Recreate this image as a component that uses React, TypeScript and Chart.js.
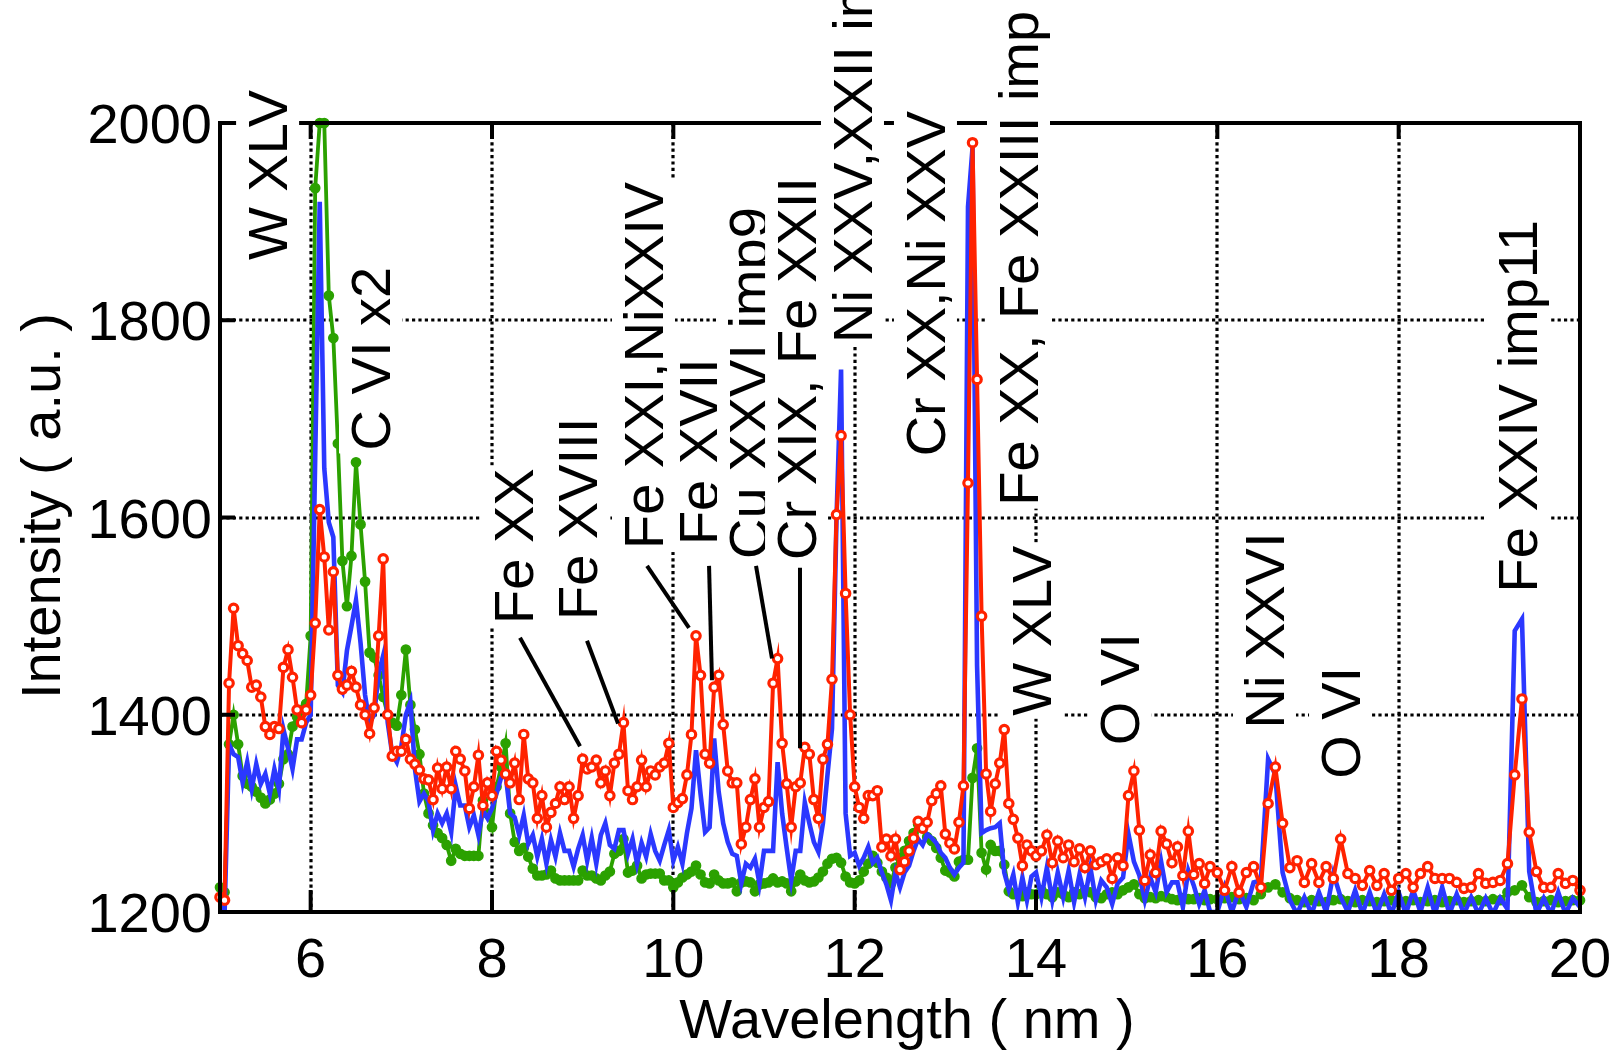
import React, { useEffect, useRef } from "react";
import { Chart, registerables } from "chart.js";

Chart.register(...registerables);

// ---------- data ----------
const wavelengthNm: number[] = [
  5, 5.05, 5.1, 5.15, 5.2, 5.25, 5.3, 5.35, 5.4, 5.45,
  5.5, 5.55, 5.6, 5.65, 5.7, 5.75, 5.8, 5.85, 5.9, 5.95,
  6, 6.05, 6.1, 6.15, 6.2, 6.25, 6.3, 6.35, 6.4, 6.45,
  6.5, 6.55, 6.6, 6.65, 6.7, 6.75, 6.8, 6.85, 6.9, 6.95,
  7, 7.05, 7.1, 7.15, 7.2, 7.25, 7.3, 7.35, 7.4, 7.45,
  7.5, 7.55, 7.6, 7.65, 7.7, 7.75, 7.8, 7.85, 7.9, 7.95,
  8, 8.05, 8.1, 8.15, 8.2, 8.25, 8.3, 8.35, 8.4, 8.45,
  8.5, 8.55, 8.6, 8.65, 8.7, 8.75, 8.8, 8.85, 8.9, 8.95,
  9, 9.05, 9.1, 9.15, 9.2, 9.25, 9.3, 9.35, 9.4, 9.45,
  9.5, 9.55, 9.6, 9.65, 9.7, 9.75, 9.8, 9.85, 9.9, 9.95,
  10, 10.05, 10.1, 10.15, 10.2, 10.25, 10.3, 10.35, 10.4, 10.45,
  10.5, 10.55, 10.6, 10.65, 10.7, 10.75, 10.8, 10.85, 10.9, 10.95,
  11, 11.05, 11.1, 11.15, 11.2, 11.25, 11.3, 11.35, 11.4, 11.45,
  11.5, 11.55, 11.6, 11.65, 11.7, 11.75, 11.8, 11.85, 11.9, 11.95,
  12, 12.05, 12.1, 12.15, 12.2, 12.25, 12.3, 12.35, 12.4, 12.45,
  12.5, 12.55, 12.6, 12.65, 12.7, 12.75, 12.8, 12.85, 12.9, 12.95,
  13, 13.05, 13.1, 13.15, 13.2, 13.25, 13.3, 13.35, 13.4, 13.45,
  13.5, 13.55, 13.6, 13.65, 13.7, 13.75, 13.8, 13.85, 13.9, 13.95,
  14, 14.06, 14.12, 14.18, 14.24, 14.3, 14.36, 14.42, 14.48, 14.54,
  14.6, 14.66, 14.72, 14.78, 14.84, 14.9, 14.96, 15.02, 15.08, 15.14,
  15.2, 15.26, 15.32, 15.38, 15.44, 15.5, 15.56, 15.62, 15.68, 15.74,
  15.8, 15.86, 15.92,
  16, 16.08, 16.16, 16.24, 16.32, 16.4, 16.48, 16.56, 16.64, 16.72,
  16.8, 16.88, 16.96, 17.04, 17.12, 17.2, 17.28, 17.36, 17.44, 17.52,
  17.6, 17.68, 17.76, 17.84, 17.92, 18, 18.08, 18.16, 18.24, 18.32,
  18.4, 18.48, 18.56, 18.64, 18.72, 18.8, 18.88, 18.96, 19.04, 19.12,
  19.2, 19.28, 19.36, 19.44, 19.52, 19.6, 19.68, 19.76, 19.84, 19.92,
  20,
];

const redSeries: number[] = [
  1215, 1212, 1432, 1508, 1470, 1462, 1455, 1428, 1430, 1418,
  1388, 1380, 1388, 1386, 1448, 1466, 1438, 1405, 1392, 1405,
  1420, 1493, 1608, 1560, 1486, 1545, 1440, 1426, 1430, 1444,
  1428, 1410, 1400, 1381, 1407, 1480, 1558, 1400, 1358, 1363,
  1363, 1375, 1355, 1350, 1344, 1335, 1334, 1314, 1346, 1325,
  1347, 1325, 1363, 1355, 1343, 1305, 1327, 1359, 1308, 1331,
  1318, 1363, 1354, 1340, 1331, 1351, 1314, 1380, 1335, 1331,
  1295, 1318, 1286, 1301, 1310, 1327, 1314, 1327, 1295, 1318,
  1355, 1345, 1347, 1354, 1331, 1343, 1318, 1351, 1360, 1392,
  1323, 1314, 1327, 1354, 1327, 1343, 1339, 1347, 1351, 1371,
  1306, 1311, 1315, 1339, 1380, 1480, 1440, 1360, 1351, 1428,
  1440, 1390, 1343, 1331, 1331, 1269, 1286, 1314, 1335, 1286,
  1306, 1312, 1432, 1457, 1371, 1330, 1286, 1327, 1331, 1367,
  1360, 1314, 1295, 1355, 1370, 1436, 1603, 1683, 1523, 1400,
  1327, 1306, 1295, 1318, 1318, 1323, 1266, 1274, 1257, 1274,
  1243, 1251, 1262, 1275, 1292, 1285, 1291, 1313, 1320, 1328,
  1279, 1270, 1264, 1291, 1328, 1635, 1980, 1740, 1500, 1340,
  1302, 1330, 1351, 1385, 1310, 1294, 1275, 1247, 1268, 1262,
  1257, 1262, 1278, 1250, 1272, 1255, 1268, 1251, 1264, 1245,
  1262, 1248, 1251, 1254, 1234, 1255, 1247, 1318, 1343, 1283,
  1232, 1258, 1240, 1282, 1269, 1250, 1266, 1237, 1282, 1238,
  1249, 1229, 1246,
  1240, 1222, 1246, 1220, 1240, 1246, 1225, 1310, 1347, 1290,
  1245, 1252, 1230, 1249, 1230, 1246, 1234, 1274, 1239, 1234,
  1227, 1242, 1227, 1239, 1222, 1234, 1239, 1225, 1239, 1246,
  1234, 1234, 1234, 1230, 1224, 1225, 1239, 1229, 1230, 1232,
  1249, 1339, 1416, 1281, 1241, 1225, 1225, 1239, 1229, 1232,
  1222,
];

const greenSeries: number[] = [
  1225, 1220, 1370, 1400, 1370, 1338, 1330, 1327, 1322, 1316,
  1310, 1314, 1320, 1330, 1355, 1360, 1388, 1398, 1405, 1411,
  1480, 1934, 2000, 2000, 1825, 1782, 1675, 1556, 1510, 1561,
  1656, 1593, 1535, 1463, 1458, 1440, 1418, 1400, 1392, 1389,
  1420, 1466, 1410, 1385, 1360, 1320, 1300, 1288, 1280, 1275,
  1268, 1252, 1264, 1259, 1257, 1257, 1257, 1257, 1313, 1300,
  1286, 1327, 1347, 1371, 1300, 1271, 1262, 1265, 1256, 1244,
  1237, 1237, 1238, 1242, 1234, 1232, 1232, 1232, 1232, 1232,
  1242, 1237, 1237, 1234, 1232, 1237, 1241, 1259, 1262, 1274,
  1240, 1242, 1247, 1234, 1238, 1239, 1239, 1239, 1232, 1232,
  1225, 1230, 1235, 1238, 1241, 1247, 1238, 1230, 1229, 1238,
  1232, 1229, 1229, 1230, 1221, 1230, 1231, 1230, 1221, 1228,
  1229, 1230, 1234, 1230, 1231, 1229, 1221, 1231, 1238, 1232,
  1230, 1231, 1235, 1241, 1249, 1254, 1255, 1250, 1236, 1230,
  1229, 1232, 1241, 1249, 1257, 1250, 1241, 1235, 1229, 1245,
  1255, 1262, 1272, 1280, 1289, 1285, 1276, 1272, 1265, 1255,
  1242, 1240, 1236, 1251, 1253, 1253, 1336, 1366, 1260, 1243,
  1268, 1262, 1262, 1248, 1221, 1218, 1219, 1216, 1220, 1218,
  1218, 1222, 1218, 1215, 1220, 1218, 1215, 1220, 1218, 1222,
  1220, 1215, 1214, 1218, 1220, 1218, 1222, 1225, 1228, 1218,
  1214, 1215, 1214, 1216, 1215, 1213, 1212, 1214, 1213, 1213,
  1214, 1212, 1213,
  1213, 1214, 1215, 1213, 1214, 1212, 1218, 1225, 1228, 1220,
  1214, 1212, 1210, 1212, 1211, 1210, 1212, 1213, 1211, 1210,
  1212, 1211, 1210, 1211, 1212, 1210, 1211, 1212, 1210, 1211,
  1212, 1210, 1211, 1212, 1210, 1211, 1212, 1211, 1213, 1212,
  1220, 1222, 1227, 1215, 1210, 1211, 1212, 1210, 1211, 1212,
  1212,
];

const blueSeries: number[] = [
  1212, 1196, 1370, 1360, 1357, 1331, 1352, 1325, 1350, 1330,
  1340, 1320, 1345, 1325, 1385, 1366, 1345, 1375, 1375, 1392,
  1400, 1660, 1920, 1650, 1595, 1580, 1430, 1423, 1465, 1490,
  1516, 1473, 1420, 1392, 1400, 1442, 1460, 1392, 1360, 1352,
  1368, 1400, 1413, 1345, 1312, 1320, 1312, 1283, 1300, 1290,
  1300, 1281, 1328, 1308, 1308, 1286, 1298, 1278, 1303, 1295,
  1305, 1320, 1336, 1340, 1300, 1296, 1278, 1298, 1269, 1278,
  1256, 1274, 1249, 1273, 1256, 1280, 1262, 1262, 1246, 1264,
  1278, 1252, 1275, 1249, 1278, 1290, 1268, 1264, 1283, 1283,
  1259, 1274, 1249, 1270, 1256, 1279, 1262, 1252, 1268, 1283,
  1252, 1266, 1249, 1280, 1305, 1364, 1320, 1281, 1286, 1376,
  1322, 1290, 1271, 1259, 1257, 1229, 1249, 1245, 1254, 1229,
  1262, 1262, 1262, 1352, 1300, 1265, 1232, 1262, 1262, 1311,
  1290, 1271, 1261, 1290, 1339, 1386, 1600, 1750, 1300, 1257,
  1260, 1247, 1255, 1266, 1250, 1255, 1240, 1228, 1212, 1240,
  1225, 1240, 1247, 1262, 1274, 1268, 1279, 1275, 1270, 1260,
  1255, 1245, 1238, 1245, 1250, 1915, 1975, 1450, 1280, 1283,
  1285, 1286, 1290, 1240, 1223, 1238, 1210, 1235, 1212, 1236,
  1240, 1215, 1245, 1212, 1240, 1215, 1242, 1210, 1238, 1215,
  1245, 1212, 1232, 1225, 1208, 1229, 1235, 1279, 1251, 1237,
  1212, 1235, 1220, 1251, 1220, 1230, 1230, 1205, 1242, 1227,
  1208, 1222, 1200,
  1200, 1225, 1200, 1222, 1205, 1230, 1232, 1355, 1339, 1240,
  1212, 1198, 1215, 1198, 1220, 1200, 1239, 1215, 1200, 1222,
  1198, 1220, 1198, 1218, 1198, 1220, 1198, 1222, 1200, 1225,
  1198, 1225, 1198, 1218, 1198, 1215, 1198, 1214, 1198, 1214,
  1203, 1485, 1497, 1241, 1198, 1214, 1198, 1220, 1198, 1214,
  1205,
];

const xTicks: number[] = [6, 8, 10, 12, 14, 16, 18, 20];
const yTicks: number[] = [1200, 1400, 1600, 1800, 2000];

const xTitle = "Wavelength ( nm )";
const yTitle = "Intensity ( a.u. )";

// line identifications: text, anchor (wavelength, intensity) = text start / baseline
const lineLabels: { text: string; x: number; y: number }[] = [
  { text: "W XLV", x: 5.74, y: 1861 },
  { text: "C VI x2", x: 6.875, y: 1668 },
  { text: "Fe XX", x: 8.452, y: 1492 },
  { text: "Fe XVIII", x: 9.158, y: 1496 },
  { text: "Fe XXI,NiXXIV", x: 9.886, y: 1568 },
  { text: "Fe XVII", x: 10.493, y: 1572 },
  { text: "Cu XXVI imp9", x: 11.044, y: 1558 },
  { text: "Cr XIX, Fe XXII", x: 11.574, y: 1557 },
  { text: "Ni XXV,XXII imp", x: 12.191, y: 1777 },
  { text: "Cr XX,Ni XXV", x: 12.996, y: 1662 },
  { text: "Fe XX, Fe XXIII imp", x: 14.022, y: 1612 },
  { text: "W XLV", x: 14.165, y: 1399 },
  { text: "O VI", x: 15.136, y: 1369 },
  { text: "Ni XXVI", x: 16.735, y: 1386 },
  { text: "O VI", x: 17.574, y: 1335 },
  { text: "Fe XXIV imp11", x: 19.526, y: 1524 },
];

// leader lines: [x1, y1, x2, y2] in data units
const leaderLines: number[][] = [
  [8.309, 1478, 8.971, 1368],
  [9.048, 1475, 9.39, 1391],
  [9.71, 1551, 10.173, 1488],
  [10.394, 1551, 10.426, 1435],
  [10.912, 1551, 11.088, 1457],
  [11.397, 1549, 11.397, 1366],
];

const FONT = '56px "Liberation Sans", Arial, Helvetica, sans-serif';
const RED = "#ff2200";
const GREEN = "#2ba100";
const BLUE = "#2b38ff";

function toPoints(ys: number[]) {
  const n = Math.min(ys.length, wavelengthNm.length);
  const out: { x: number; y: number }[] = [];
  for (let i = 0; i < n; i++) out.push({ x: wavelengthNm[i], y: ys[i] });
  return out;
}

const decorPlugin = {
  id: "decor",
  beforeDatasetsDraw(chart: any) {
    const { ctx, chartArea: a, scales } = chart;
    const xs = scales.x;
    const ys = scales.y;
    ctx.save();
    ctx.strokeStyle = "#000";
    ctx.lineWidth = 3.2;
    ctx.setLineDash([3.2, 3.2]);
    for (const v of xTicks) {
      const px = Math.round(xs.getPixelForValue(v));
      if (px <= a.left + 2 || px >= a.right - 2) continue;
      ctx.beginPath();
      ctx.moveTo(px, a.top);
      ctx.lineTo(px, a.bottom);
      ctx.stroke();
    }
    for (const v of yTicks) {
      const py = Math.round(ys.getPixelForValue(v));
      if (py <= a.top + 2 || py >= a.bottom - 2) continue;
      ctx.beginPath();
      ctx.moveTo(a.left, py);
      ctx.lineTo(a.right, py);
      ctx.stroke();
    }
    ctx.restore();
  },
  afterDatasetsDraw(chart: any) {
    const { ctx, chartArea: a, scales } = chart;
    const xs = scales.x;
    const ys = scales.y;
    ctx.save();
    ctx.setLineDash([]);
    ctx.strokeStyle = "#000";
    // frame
    ctx.lineWidth = 4;
    ctx.strokeRect(a.left, a.top, a.right - a.left, a.bottom - a.top);
    // inward ticks
    ctx.lineWidth = 4;
    for (const v of yTicks) {
      const py = ys.getPixelForValue(v);
      ctx.beginPath();
      ctx.moveTo(a.left, py);
      ctx.lineTo(a.left + 15, py);
      ctx.stroke();
    }
    for (const v of xTicks) {
      const px = xs.getPixelForValue(v);
      ctx.beginPath();
      ctx.moveTo(px, a.bottom);
      ctx.lineTo(px, a.bottom - 22);
      ctx.moveTo(px, a.top);
      ctx.lineTo(px, a.top + 16);
      ctx.stroke();
    }
    // tick labels
    ctx.fillStyle = "#000";
    ctx.font = FONT;
    ctx.textBaseline = "alphabetic";
    ctx.textAlign = "right";
    for (const v of yTicks) {
      const py = ys.getPixelForValue(v);
      ctx.fillText(String(v), a.left - 8, py + 20);
    }
    ctx.textAlign = "center";
    for (const v of xTicks) {
      const px = xs.getPixelForValue(v);
      ctx.fillText(String(v), px, a.bottom + 65);
    }
    // axis titles
    ctx.fillText(xTitle, (a.left + a.right) / 2 + 7, a.bottom + 126);
    ctx.save();
    ctx.translate(60, 699);
    ctx.rotate(-Math.PI / 2);
    ctx.textAlign = "left";
    ctx.fillText(yTitle, 0, 0);
    ctx.restore();
    // leader lines
    ctx.lineWidth = 4;
    ctx.lineCap = "butt";
    for (const l of leaderLines) {
      ctx.beginPath();
      ctx.moveTo(xs.getPixelForValue(l[0]), ys.getPixelForValue(l[1]));
      ctx.lineTo(xs.getPixelForValue(l[2]), ys.getPixelForValue(l[3]));
      ctx.stroke();
    }
    // line identification labels with white boxes
    for (const lab of lineLabels) {
      const bx = xs.getPixelForValue(lab.x);
      const sy = ys.getPixelForValue(lab.y);
      ctx.save();
      ctx.translate(bx, sy);
      ctx.rotate(-Math.PI / 2);
      ctx.font = FONT;
      const w = ctx.measureText(lab.text).width;
      ctx.fillStyle = "#fff";
      ctx.fillRect(-3, -51, w + 6, 63);
      ctx.fillStyle = "#000";
      ctx.textAlign = "left";
      ctx.textBaseline = "alphabetic";
      ctx.fillText(lab.text, 0, 0);
      ctx.restore();
    }
    ctx.restore();
  },
};

export default function App() {
  const canvasRef = useRef<HTMLCanvasElement | null>(null);

  useEffect(() => {
    const canvas = canvasRef.current;
    if (!canvas) return;
    const chart = new Chart(canvas, {
      type: "line",
      data: {
        datasets: [
          {
            label: "red",
            data: toPoints(redSeries),
            borderColor: RED,
            borderWidth: 4,
            pointRadius: 4.2,
            pointBorderWidth: 3.2,
            pointBorderColor: RED,
            pointBackgroundColor: "#ffffff",
            tension: 0,
            order: 0,
            clip: 8,
          },
          {
            label: "blue",
            data: toPoints(blueSeries),
            borderColor: BLUE,
            borderWidth: 4.6,
            pointRadius: 0,
            tension: 0,
            order: 1,
            clip: 2,
          },
          {
            label: "green",
            data: toPoints(greenSeries),
            borderColor: GREEN,
            borderWidth: 3.8,
            pointRadius: 4.6,
            pointBorderWidth: 1.5,
            pointBorderColor: GREEN,
            pointBackgroundColor: GREEN,
            tension: 0,
            order: 2,
            clip: 8,
          },
        ],
      },
      options: {
        animation: false,
        responsive: false,
        devicePixelRatio: 1,
        events: [],
        layout: { padding: { left: 220, right: 41, top: 123, bottom: 140 } },
        plugins: {
          legend: { display: false },
          tooltip: { enabled: false },
          title: { display: false },
        },
        scales: {
          x: { type: "linear", min: 5, max: 20, display: false },
          y: { type: "linear", min: 1200, max: 2000, display: false },
        },
      },
      plugins: [decorPlugin],
    } as any);
    return () => chart.destroy();
  }, []);

  return (
    <div
      style={{
        position: "fixed",
        left: 0,
        top: 0,
        width: 1621,
        height: 1052,
        background: "#ffffff",
      }}
    >
      <canvas ref={canvasRef} width={1621} height={1052} style={{ display: "block" }} />
    </div>
  );
}
